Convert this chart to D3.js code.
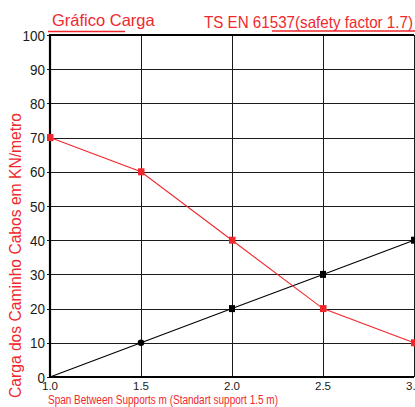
<!DOCTYPE html>
<html><head><meta charset="utf-8">
<script src="https://cdn.jsdelivr.net/npm/d3@7"></script>
<style>
html,body{margin:0;padding:0;background:#fff;}
svg{display:block;font-family:"Liberation Sans",Arial,sans-serif;}
</style></head>
<body>
<svg id="chart" width="415" height="407"></svg>
<script>
const spans = [1.0, 1.5, 2.0, 2.5, 3.0];
const redLoad = [70, 60, 40, 20, 10];
const blackLoad = [0, 10, 20, 30, 40];
const blackMarker = ["none", "circle", "square", "square", "square"];
const xTicks = [1.0, 1.5, 2.0, 2.5, 3.0];
const yTicks = [0, 10, 20, 30, 40, 50, 60, 70, 80, 90, 100];

const RED = "#f0282d";
const svg = d3.select("#chart");
const x = d3.scaleLinear().domain([1.0, 3.0]).range([50, 414]);
const y = d3.scaleLinear().domain([0, 100]).range([377, 35]);

// grid
svg.append("g").selectAll("line.h").data(yTicks).join("line")
  .attr("x1", x(1.0) - 3).attr("x2", x(3.0))
  .attr("y1", d => Math.round(y(d)) + 0.5).attr("y2", d => Math.round(y(d)) + 0.5)
  .attr("stroke", "#1a1a1a").attr("stroke-width", 1);
svg.append("g").selectAll("line.v").data(xTicks).join("line")
  .attr("x1", d => Math.round(x(d)) + 0.5).attr("x2", d => Math.round(x(d)) + 0.5)
  .attr("y1", y(100)).attr("y2", y(0))
  .attr("stroke", "#1a1a1a").attr("stroke-width", 1);

// frame (thick left, bottom, top)
svg.append("line").attr("x1", x(1.0)).attr("x2", x(1.0)).attr("y1", y(100) - 1).attr("y2", y(0) + 1)
  .attr("stroke", "#000").attr("stroke-width", 2.2);
svg.append("line").attr("x1", x(1.0) - 1).attr("x2", x(3.0)).attr("y1", y(0)).attr("y2", y(0))
  .attr("stroke", "#000").attr("stroke-width", 2.2);
svg.append("line").attr("x1", x(1.0) - 1).attr("x2", x(3.0)).attr("y1", y(100)).attr("y2", y(100))
  .attr("stroke", "#000").attr("stroke-width", 2.2);

// axis tick labels
svg.append("g").selectAll("text").data(yTicks).join("text")
  .attr("x", 45).attr("y", d => y(d) + 5.5)
  .attr("text-anchor", "end").attr("font-size", 15.5).attr("fill", "#1a1a1a")
  .attr("textLength", d => String(d).length * 7.5).attr("lengthAdjust", "spacingAndGlyphs")
  .text(d => d);
svg.append("g").selectAll("text").data(xTicks).join("text")
  .attr("x", d => x(d)).attr("y", 390)
  .attr("text-anchor", "middle").attr("font-size", 11.5).attr("fill", "#1a1a1a")
  .text(d => d.toFixed(1));

// series lines
const line = d3.line().x(d => x(d[0])).y(d => y(d[1]));
const redPts = spans.map((s, i) => [s, redLoad[i]]);
const blackPts = spans.map((s, i) => [s, blackLoad[i]]);
svg.append("path").attr("d", line(blackPts)).attr("fill", "none").attr("stroke", "#000").attr("stroke-width", 1.1);
svg.append("path").attr("d", line(redPts)).attr("fill", "none").attr("stroke", RED).attr("stroke-width", 1.1);

// markers
blackPts.forEach((p, i) => {
  const m = blackMarker[i];
  if (m === "circle") {
    svg.append("circle").attr("cx", x(p[0])).attr("cy", y(p[1])).attr("r", 3.3).attr("fill", "#000");
  } else if (m === "square") {
    svg.append("rect").attr("x", x(p[0]) - 3).attr("y", y(p[1]) - 3.5).attr("width", 6).attr("height", 7).attr("fill", "#000");
  }
});
svg.append("g").selectAll("rect").data(redPts).join("rect")
  .attr("x", d => x(d[0]) - 3).attr("y", d => y(d[1]) - 3.5)
  .attr("width", 6.5).attr("height", 7).attr("fill", RED);

// titles
svg.append("text").attr("x", 52).attr("y", 26).attr("font-size", 16.5).attr("fill", RED).text("Gráfico Carga");
svg.append("line").attr("x1", 48).attr("x2", 125).attr("y1", 31.5).attr("y2", 31.5).attr("stroke", RED).attr("stroke-width", 1.3);
svg.append("text").attr("x", 204).attr("y", 28).attr("font-size", 16.5).attr("fill", RED)
  .attr("textLength", 209).attr("lengthAdjust", "spacingAndGlyphs")
  .text("TS EN 61537(safety factor 1.7)");
svg.append("line").attr("x1", 272).attr("x2", 415).attr("y1", 31).attr("y2", 31).attr("stroke", RED).attr("stroke-width", 1.3);

// axis titles
svg.append("text").attr("transform", "translate(21,255.5) rotate(-90)")
  .attr("text-anchor", "middle").attr("font-size", 16).attr("fill", RED)
  .attr("textLength", 285).attr("lengthAdjust", "spacingAndGlyphs")
  .text("Carga dos Caminho Cabos em KN/metro");
svg.append("text").attr("x", 48).attr("y", 404).attr("font-size", 12).attr("fill", RED)
  .attr("textLength", 230).attr("lengthAdjust", "spacingAndGlyphs")
  .text("Span Between Supports m (Standart support 1.5 m)");
</script>
</body></html>
